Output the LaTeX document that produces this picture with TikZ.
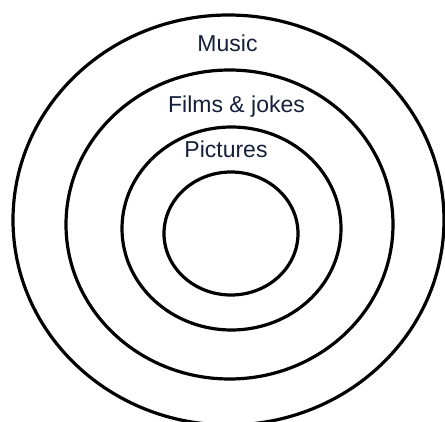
\documentclass[tikz,border=0pt]{standalone}
\usepackage{fontspec}
\setmainfont{Liberation Sans}
\usetikzlibrary{shapes.geometric}
\definecolor{labelcol}{RGB}{22,32,58}
\tikzset{
  ring/.style={ellipse, draw=black, line width=3.2pt, inner sep=0pt, outer sep=0pt},
  lbl/.style={anchor=base, text=labelcol, font=\fontsize{23}{27}\selectfont, inner sep=0pt}
}
\begin{document}
\begin{tikzpicture}[x=1pt,y=1pt]
\useasboundingbox (0,0) rectangle (445,421);
\clip (0,0) rectangle (445,421);
\fill[white] (0,0) rectangle (445,421);
\node[ring, minimum width=431pt, minimum height=410pt] (outer) at (228.5,201) {};
\node[ring, minimum width=327pt, minimum height=309pt] (films) at (229.5,196.5) {};
\node[ring, minimum width=219pt, minimum height=203pt] (pict) at (231.5,192.5) {};
\node[ring, minimum width=134pt, minimum height=123pt] (core) at (231,187.5) {};
\node[lbl] (music) at (227.5,369) {Music};
\node[lbl] (filmslbl) at (236.5,308) {Films \& jokes};
\node[lbl] (pictlbl) at (226,263) {Pictures};
\end{tikzpicture}
\end{document}
